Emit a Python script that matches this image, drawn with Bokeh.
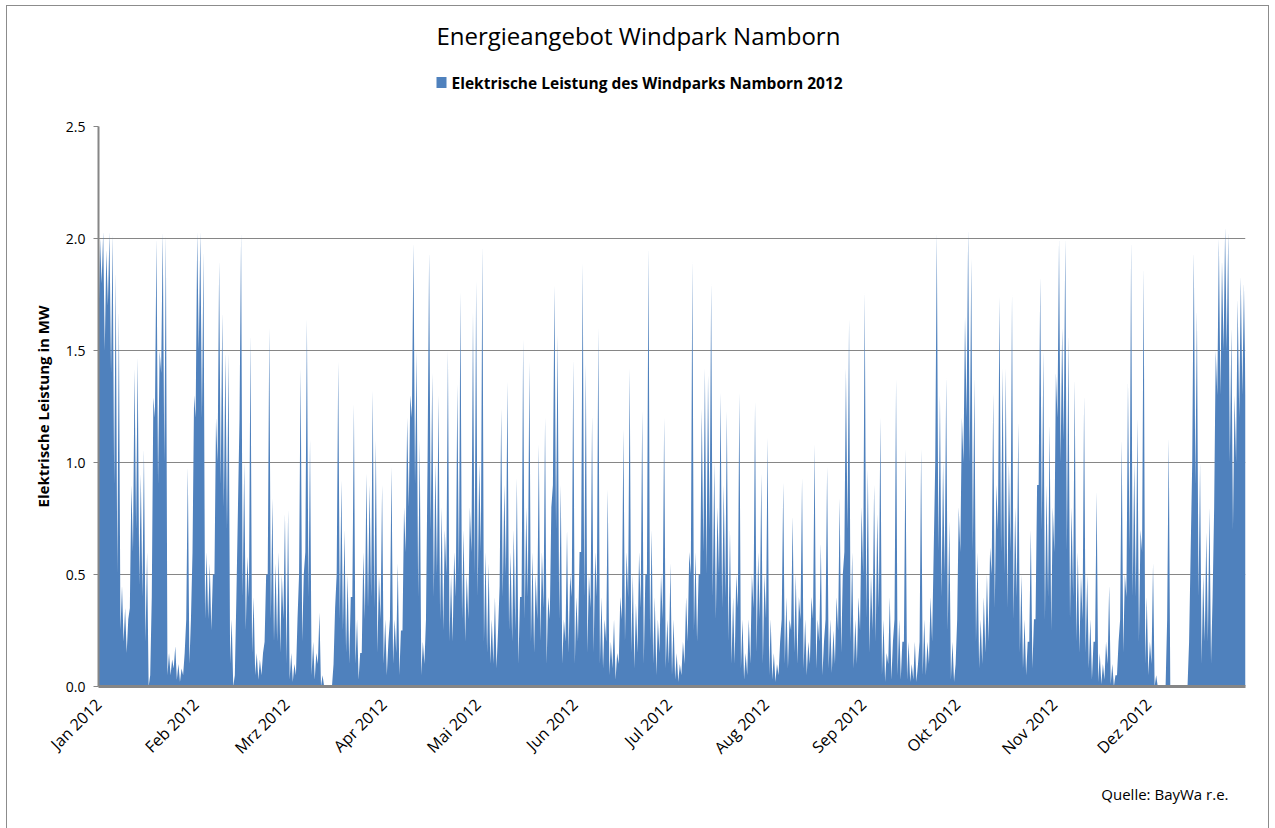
from bokeh.plotting import figure
from bokeh.layouts import column
from bokeh.models import Range1d, FixedTicker, Title, PrintfTickFormatter
from bokeh.core.properties import value
from bokeh.embed import file_html
from bokeh.resources import INLINE
import math

# Chart texts
chart_title = "Energieangebot  Windpark Namborn"
series_name = "Elektrische Leistung des Windparks Namborn 2012"
source_text = "Quelle: BayWa r.e."

# Monthly tick labels (German)
month_labels = ["Jan 2012", "Feb 2012", "Mrz 2012", "Apr 2012", "Mai 2012", "Jun 2012",
                "Jul 2012", "Aug 2012", "Sep 2012", "Okt 2012", "Nov 2012", "Dez 2012"]
month_days = [31, 29, 31, 30, 31, 30, 31, 31, 30, 31, 30, 31]

# Daily peak power (MW)
peak_jan = [2.0, 2.03, 1.95, 2.03, 2.02, 1.85, 1.68, 0.45, 0.35, 0.3, 0.9, 1.42, 1.47, 0.95, 1.06, 0.6,
            0.05, 1.29, 2.0, 1.5, 2.03, 2.02, 0.15, 0.12, 0.18, 0.1, 0.08, 0.15, 0.98, 0.3, 1.3]
peak_feb = [2.03, 2.03, 1.94, 0.6, 0.55, 0.5, 1.2, 1.9, 1.67, 1.49, 1.49, 0.3, 0.05, 0.8, 2.03, 1.0,
            0.58, 1.57, 0.4, 0.15, 0.12, 0.15, 0.5, 1.6, 0.84, 0.55, 0.6, 0.5, 0.77]
peak_mar = [0.79, 0.15, 0.1, 0.3, 1.42, 0.5, 1.64, 1.1, 0.2, 0.15, 0.33, 0.05, 0.0, 0.0, 0.0, 0.35,
            1.45, 0.92, 0.7, 0.5, 0.4, 1.26, 0.3, 0.15, 0.6, 0.95, 0.9, 1.32, 1.1, 0.5, 0.9]
peak_apr = [0.3, 0.2, 0.98, 0.3, 0.55, 0.25, 0.8, 1.2, 1.3, 1.98, 1.5, 1.1, 0.2, 0.3, 1.94, 1.4,
            1.0, 1.3, 0.8, 0.7, 1.5, 0.5, 0.6, 1.35, 1.76, 0.7, 0.5, 0.8, 1.67, 1.81]
peak_may = [1.0, 1.97, 0.6, 0.55, 0.3, 0.4, 0.25, 1.24, 0.9, 1.36, 0.6, 0.7, 0.93, 0.4, 1.55, 0.8,
            1.45, 0.6, 0.5, 1.08, 0.6, 1.2, 0.4, 0.8, 1.79, 1.57, 0.9, 0.3, 0.7, 0.5, 1.46]
peak_jun = [0.4, 0.6, 1.89, 1.44, 0.5, 1.21, 0.6, 1.6, 0.4, 0.3, 0.88, 0.2, 0.3, 0.15, 0.4, 1.15,
            0.6, 1.42, 0.5, 0.37, 0.6, 1.23, 0.5, 1.96, 0.7, 0.4, 0.3, 0.5, 1.2, 0.3]
peak_jul = [0.55, 0.3, 0.15, 0.1, 0.2, 0.4, 0.6, 1.9, 0.6, 0.5, 1.24, 1.42, 1.39, 1.8, 1.0, 0.8,
            1.31, 0.9, 1.23, 0.7, 0.4, 0.5, 1.31, 0.3, 0.15, 0.3, 0.5, 1.27, 0.6, 0.95, 0.5]
peak_aug = [1.11, 0.3, 0.15, 0.1, 0.2, 0.91, 0.4, 0.3, 0.76, 0.5, 0.4, 0.93, 0.3, 0.2, 0.4, 1.08,
            0.3, 0.64, 0.2, 0.98, 0.3, 0.25, 0.4, 0.84, 0.5, 1.42, 1.64, 0.6, 0.3, 0.4, 0.8]
peak_sep = [1.76, 0.97, 0.5, 0.9, 0.77, 1.2, 0.3, 0.15, 0.4, 0.2, 1.37, 0.3, 0.2, 1.06, 0.2, 0.1,
            0.2, 0.1, 1.06, 0.3, 0.2, 0.4, 0.6, 2.03, 1.3, 1.0, 1.38, 0.74, 0.2, 0.1]
peak_oct = [0.8, 1.2, 1.65, 2.04, 1.91, 1.38, 0.6, 0.3, 0.4, 0.5, 0.62, 1.31, 0.9, 1.74, 1.42, 1.42,
            1.0, 1.75, 0.8, 1.18, 0.5, 0.3, 0.2, 0.7, 0.3, 0.9, 1.83, 1.5, 0.9, 1.17, 0.8]
peak_nov = [1.4, 2.0, 1.6, 2.0, 1.57, 0.8, 1.37, 0.6, 0.5, 1.3, 0.5, 0.3, 0.2, 0.87, 0.15, 0.1,
            0.2, 0.45, 0.1, 0.05, 0.2, 1.1, 0.5, 1.36, 1.99, 1.0, 1.2, 0.7, 1.87, 0.4]
peak_dec = [0.2, 0.55, 0.05, 0.0, 0.0, 0.0, 1.11, 0.0, 0.0, 0.0, 0.0, 0.0, 0.0, 0.6, 1.94, 1.68,
            1.0, 0.5, 0.69, 0.8, 0.4, 1.5, 2.0, 1.9, 2.05, 2.03, 1.6, 1.3, 1.73, 1.83, 1.8]

# Daily low (level between the peaks)
low_jan = [1.6, 1.8, 1.5, 1.7, 1.4, 0.9, 0.5, 0.25, 0.2, 0.15, 0.35, 0.6, 0.7, 0.45, 0.4, 0.2,
           0.0, 0.4, 1.2, 0.9, 1.4, 1.0, 0.05, 0.05, 0.08, 0.03, 0.02, 0.05, 0.3, 0.1, 0.6]
low_feb = [1.2, 1.5, 1.2, 0.3, 0.3, 0.25, 0.5, 1.0, 0.9, 0.8, 0.7, 0.1, 0.0, 0.4, 1.2, 0.4,
           0.25, 0.4, 0.15, 0.05, 0.03, 0.05, 0.2, 0.5, 0.3, 0.2, 0.2, 0.15, 0.3]
low_mar = [0.1, 0.03, 0.02, 0.05, 0.5, 0.2, 0.6, 0.4, 0.05, 0.03, 0.1, 0.0, 0.0, 0.0, 0.0, 0.1,
           0.5, 0.3, 0.25, 0.15, 0.1, 0.4, 0.1, 0.03, 0.15, 0.3, 0.35, 0.4, 0.35, 0.15, 0.3]
low_apr = [0.1, 0.05, 0.3, 0.1, 0.15, 0.05, 0.25, 0.6, 0.8, 1.2, 0.9, 0.4, 0.05, 0.1, 1.0, 0.7,
           0.4, 0.5, 0.3, 0.25, 0.5, 0.2, 0.2, 0.4, 0.5, 0.3, 0.2, 0.3, 0.6, 0.5]
low_may = [0.4, 0.6, 0.2, 0.15, 0.1, 0.1, 0.08, 0.45, 0.4, 0.5, 0.25, 0.2, 0.25, 0.1, 0.4, 0.3,
           0.4, 0.2, 0.15, 0.3, 0.2, 0.35, 0.1, 0.3, 0.9, 0.7, 0.3, 0.1, 0.2, 0.15, 0.4]
low_jun = [0.1, 0.2, 0.6, 0.4, 0.15, 0.35, 0.15, 0.4, 0.1, 0.08, 0.2, 0.05, 0.08, 0.03, 0.1, 0.3,
           0.2, 0.4, 0.15, 0.08, 0.15, 0.35, 0.1, 0.5, 0.2, 0.1, 0.05, 0.15, 0.3, 0.08]
low_jul = [0.1, 0.05, 0.03, 0.02, 0.05, 0.1, 0.2, 0.5, 0.25, 0.2, 0.5, 0.6, 0.5, 0.7, 0.4, 0.3,
           0.5, 0.35, 0.4, 0.2, 0.1, 0.1, 0.35, 0.08, 0.03, 0.05, 0.1, 0.35, 0.15, 0.3, 0.1]
low_aug = [0.3, 0.05, 0.03, 0.02, 0.05, 0.3, 0.1, 0.08, 0.25, 0.15, 0.1, 0.3, 0.08, 0.05, 0.1, 0.3,
           0.08, 0.2, 0.05, 0.3, 0.08, 0.06, 0.1, 0.25, 0.15, 0.6, 0.7, 0.2, 0.08, 0.1, 0.25]
low_sep = [0.5, 0.3, 0.15, 0.25, 0.2, 0.35, 0.05, 0.02, 0.1, 0.03, 0.3, 0.05, 0.03, 0.2, 0.03, 0.02,
           0.03, 0.02, 0.2, 0.05, 0.05, 0.1, 0.2, 1.0, 0.6, 0.4, 0.5, 0.25, 0.03, 0.02]
low_oct = [0.3, 0.6, 1.0, 1.2, 1.0, 0.6, 0.2, 0.08, 0.1, 0.15, 0.2, 0.5, 0.35, 0.7, 0.6, 0.5,
           0.35, 0.6, 0.3, 0.4, 0.15, 0.08, 0.05, 0.2, 0.08, 0.3, 0.9, 0.7, 0.3, 0.4, 0.25]
low_nov = [0.6, 1.2, 1.0, 1.1, 0.6, 0.3, 0.4, 0.2, 0.15, 0.3, 0.15, 0.08, 0.03, 0.2, 0.02, 0.01,
           0.03, 0.1, 0.01, 0.0, 0.05, 0.3, 0.15, 0.4, 0.6, 0.4, 0.4, 0.2, 0.6, 0.1]
low_dec = [0.05, 0.1, 0.0, 0.0, 0.0, 0.0, 0.3, 0.0, 0.0, 0.0, 0.0, 0.0, 0.0, 0.2, 1.0, 0.9,
           0.4, 0.1, 0.2, 0.2, 0.1, 0.8, 1.3, 1.3, 1.5, 1.5, 1.0, 0.7, 1.0, 1.2, 1.3]

peaks = (peak_jan + peak_feb + peak_mar + peak_apr + peak_may + peak_jun +
         peak_jul + peak_aug + peak_sep + peak_oct + peak_nov + peak_dec)
lows = (low_jan + low_feb + low_mar + low_apr + low_may + low_jun +
        low_jul + low_aug + low_sep + low_oct + low_nov + low_dec)

n_days = len(peaks)
xs, ys = [], []
for d in range(n_days):
    xs.append(d)
    ys.append(lows[d])
    xs.append(d + 0.5)
    ys.append(peaks[d])
xs.append(n_days)
ys.append(lows[-1])

month_starts = []
acc = 0
for m in month_days:
    month_starts.append(acc)
    acc += m

BLUE = "#4F81BD"
GRID = "#868686"
FONT = "Open Sans"
W = 1261
HEAD_H = 110

# ---------- header: title and legend (x in page pixels, frame aligned with the chart) ----------
head = figure(width=W, height=HEAD_H, output_backend="svg", toolbar_location=None,
              x_range=Range1d(98, 1245), y_range=Range1d(0, HEAD_H),
              min_border_left=91, min_border_right=23, min_border_top=0, min_border_bottom=0)
head.axis.visible = False
head.grid.visible = False
head.outline_line_color = None
head.background_fill_color = "white"
head.border_fill_color = "white"
head.text(x=[641], y=[81], text=[chart_title], text_font=value(FONT),
          text_font_size="24px", text_color="black", text_align="center",
          text_baseline="middle")
head.rect(x=[441], y=[34], width=10, height=11, fill_color=BLUE, line_color=None)
head.text(x=[451], y=[34], text=[series_name], text_font=value(FONT),
          text_font_size="15.5px", text_font_style="bold", text_color="black",
          text_align="left", text_baseline="middle")

# ---------- main chart ----------
p = figure(width=W, height=712, output_backend="svg", toolbar_location=None,
           x_range=Range1d(0, n_days), y_range=Range1d(0, 2.5),
           min_border_left=91, min_border_right=23, min_border_top=10, min_border_bottom=142)
p.outline_line_color = None
p.background_fill_color = "white"
p.border_fill_color = "white"

area = p.varea(x=xs, y1=0, y2=ys, fill_color=BLUE, fill_alpha=1.0)

p.xgrid.visible = False
p.ygrid.grid_line_color = GRID
p.ygrid.grid_line_width = 1
p.yaxis.ticker = FixedTicker(ticks=[0, 0.5, 1.0, 1.5, 2.0, 2.5])
p.yaxis.formatter = PrintfTickFormatter(format="%.1f")
p.yaxis.axis_line_color = GRID
p.yaxis.axis_line_width = 2
p.yaxis.major_tick_line_color = GRID
p.yaxis.major_tick_out = 5
p.yaxis.major_tick_in = 0
p.yaxis.minor_tick_line_color = None
p.yaxis.major_label_text_font = FONT
p.yaxis.major_label_text_font_size = "14px"
p.yaxis.major_label_text_color = "black"
p.yaxis.major_label_standoff = 8
p.yaxis.axis_label = "Elektrische Leistung in MW"
p.yaxis.axis_label_text_font = FONT
p.yaxis.axis_label_text_font_size = "15px"
p.yaxis.axis_label_text_font_style = "bold"
p.yaxis.axis_label_text_color = "black"
p.yaxis.axis_label_standoff = 10

p.xaxis.ticker = FixedTicker(ticks=month_starts)
p.xaxis.major_label_overrides = {ms: lab for ms, lab in zip(month_starts, month_labels)}
p.xaxis.major_label_orientation = math.pi / 4
p.xaxis.axis_line_color = GRID
p.xaxis.axis_line_width = 3
p.xaxis.major_tick_line_color = None
p.xaxis.minor_tick_line_color = None
p.xaxis.major_label_text_font = FONT
p.xaxis.major_label_text_font_size = "16px"
p.xaxis.major_label_text_color = "black"
p.xaxis.major_label_standoff = 9

p.add_layout(Title(text=source_text, align="right", text_font=FONT,
                   text_font_size="15px", text_font_style="normal", text_color="black",
                   standoff=24, offset=17), "below")

layout = column(head, p, spacing=0)
layout.margin = (5, 0, 0, 6)
layout.styles = {"border": "1px solid #8c8c8c"}

open("out.html", "w").write(file_html(layout, INLINE))
